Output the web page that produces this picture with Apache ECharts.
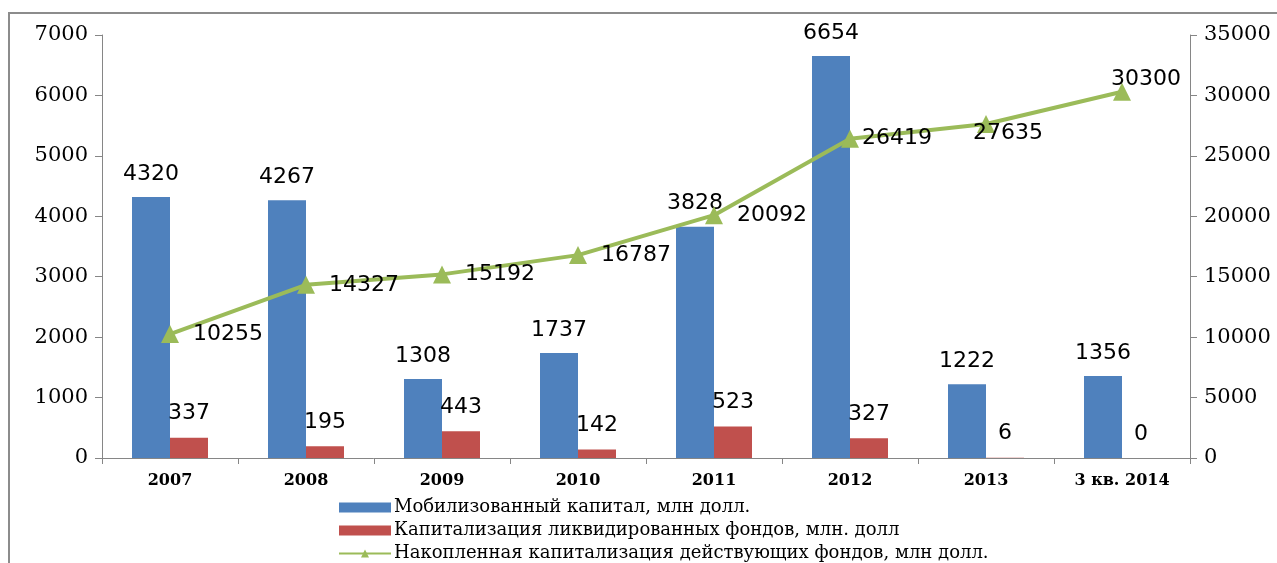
<!DOCTYPE html>
<html>
<head>
<meta charset="utf-8">
<script src="https://cdn.jsdelivr.net/npm/echarts@6/dist/echarts.min.js"></script>
<style>
html,body{margin:0;padding:0;background:#fff;}
#chart{width:1277px;height:563px;}
</style>
</head>
<body>
<div id="chart"></div>
<script>
var categories = ['2007', '2008', '2009', '2010', '2011', '2012', '2013', '3 кв. 2014'];
var mobilized = [4320, 4267, 1308, 1737, 3828, 6654, 1222, 1356];
var liquidated = [337, 195, 443, 142, 523, 327, 6, 0];
var accumulated = [10255, 14327, 15192, 16787, 20092, 26419, 27635, 30300];

var names = [
    'Мобилизованный капитал, млн долл.',
    'Капитализация ликвидированных фондов, млн. долл',
    'Накопленная капитализация действующих фондов, млн долл.'
];

var myChart = echarts.init(document.getElementById('chart'));

// подписи линии: несколько точек сдвинуты вручную, как в оригинале
var lineData = accumulated.map(function (v, i) {
    if (i === 5) return {value: v, label: {distance: 3}};
    if (i === 6) return {value: v, label: {offset: [-36, 9]}};
    if (i === 7) return {value: v, label: {position: 'top', distance: 0, offset: [24, 7]}};
    return v;
});

var plain = function (v) { return String(v); };

var option = {
    animation: false,
    color: ['#4F81BD', '#C0504D', '#9BBB59'],
    graphic: [{
        type: 'rect',
        shape: {x: 9, y: 13, width: 1300, height: 600},
        style: {fill: 'none', stroke: '#8c8c8c', lineWidth: 2},
        silent: true
    }],
    grid: {left: 102, right: 87, top: 35, bottom: 105},
    legend: {
        orient: 'vertical',
        left: 338,
        top: 497,
        height: 120,
        padding: 0,
        itemGap: 2,
        itemWidth: 52,
        itemHeight: 10,
        textStyle: {fontFamily: 'DejaVu Serif', fontSize: 18, lineHeight: 21, color: '#000', padding: [0, 0, 0, -2]},
        data: [
            {name: names[0], icon: 'rect'},
            {name: names[1], icon: 'rect'},
            {name: names[2]}
        ]
    },
    xAxis: {
        type: 'category',
        data: categories,
        axisLine: {lineStyle: {color: '#868686'}},
        axisTick: {show: true, length: 6, lineStyle: {color: '#868686'}},
        axisLabel: {
            fontFamily: 'DejaVu Serif', fontWeight: 'bold', fontSize: 16,
            color: '#000', margin: 15
        }
    },
    yAxis: [{
        type: 'value',
        min: 0, max: 7000, interval: 1000,
        axisLine: {show: true, lineStyle: {color: '#868686'}},
        axisTick: {show: true, length: 7, lineStyle: {color: '#868686'}},
        splitLine: {show: false},
        axisLabel: {fontFamily: 'DejaVu Serif', fontSize: 21, color: '#000', margin: 14, formatter: plain}
    }, {
        type: 'value',
        min: 0, max: 35000, interval: 5000,
        axisLine: {show: true, lineStyle: {color: '#868686'}},
        axisTick: {show: true, length: 7, lineStyle: {color: '#868686'}},
        splitLine: {show: false},
        axisLabel: {fontFamily: 'DejaVu Serif', fontSize: 21, color: '#000', margin: 14, formatter: plain}
    }],
    series: [{
        name: names[0],
        type: 'bar',
        data: mobilized,
        barWidth: 38,
        barGap: '0%',
        label: {
            show: true, position: 'top', distance: 12,
            fontFamily: 'DejaVu Sans', fontSize: 22, color: '#000'
        }
    }, {
        name: names[1],
        type: 'bar',
        data: liquidated,
        barWidth: 38,
        barGap: '0%',
        label: {
            show: true, position: 'top', distance: 13,
            fontFamily: 'DejaVu Sans', fontSize: 22, color: '#000'
        }
    }, {
        name: names[2],
        type: 'line',
        yAxisIndex: 1,
        data: lineData,
        symbol: 'triangle',
        symbolSize: 18,
        lineStyle: {width: 4},
        label: {
            show: true, position: 'right', distance: 14,
            fontFamily: 'DejaVu Sans', fontSize: 22, color: '#000'
        }
    }]
};
myChart.setOption(option);
</script>
</body>
</html>
